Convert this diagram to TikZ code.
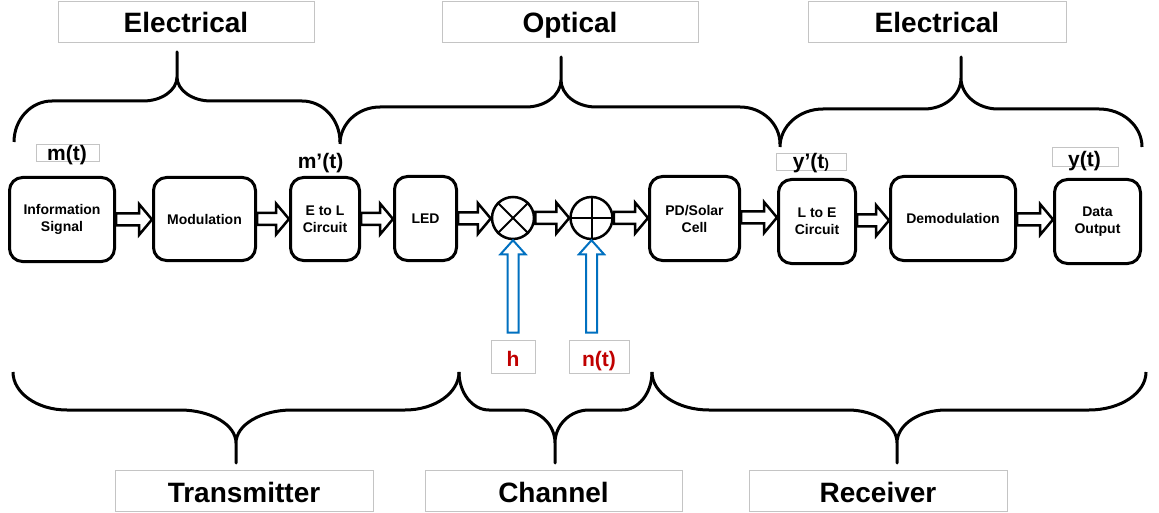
\documentclass[tikz,border=0pt]{standalone}
\usepackage{fontspec}
\setmainfont{Liberation Sans}
\usetikzlibrary{calc}

\definecolor{linkblue}{HTML}{0070C0}
\definecolor{valred}{HTML}{C00000}
\definecolor{framegray}{HTML}{C4C4C4}

% curly brace: x1, x2, x of tip, y of ends, y of bar, y of neck, y of tip,
% x-radius of end curves, x-radius of tip curves
\newcommand\curlybrace[9]{%
  \pgfmathsetmacro\cbA{#4+0.552*(#5-#4)}%
  \pgfmathsetmacro\cbB{#1+(1-0.552)*#8}%
  \pgfmathsetmacro\cbC{#1+#8}%
  \pgfmathsetmacro\cbD{#3-#9}%
  \pgfmathsetmacro\cbE{#3-#9+0.552*#9}%
  \pgfmathsetmacro\cbF{#6+0.552*(#5-#6)}%
  \pgfmathsetmacro\cbG{#3+#9-0.552*#9}%
  \pgfmathsetmacro\cbH{#3+#9}%
  \pgfmathsetmacro\cbI{#2-#8}%
  \pgfmathsetmacro\cbJ{#2-#8+0.552*#8}%
  \draw[bracket] (#1,#4) .. controls (#1,\cbA) and (\cbB,#5) .. (\cbC,#5)
    -- (\cbD,#5) .. controls (\cbE,#5) and (#3,\cbF) .. (#3,#6) -- (#3,#7)
    -- (#3,#6) .. controls (#3,\cbF) and (\cbG,#5) .. (\cbH,#5)
    -- (\cbI,#5) .. controls (\cbJ,#5) and (#2,\cbA) .. (#2,#4);
}

\tikzset{
  block/.style={draw, line width=3pt, rounded corners=13pt, align=center,
    font=\fontsize{14}{17}\selectfont\bfseries, inner sep=2pt},
  mixer/.style={draw, circle, line width=2.5pt, minimum size=42pt, inner sep=0pt},
  bracket/.style={line width=3pt, line join=round},
  tagbox/.style={draw=framegray, line width=0.8pt, inner sep=0pt},
  headtext/.style={font=\fontsize{28}{28}\selectfont\bfseries,
    text height=23pt, text depth=0pt},
  sigtext/.style={font=\fontsize{21}{21}\selectfont\bfseries, inner sep=0pt},
  valtext/.style={text=valred, text height=19pt, text depth=0pt},
  hollow/.style={draw=black, fill=white, line width=2.5pt},
  hollowblue/.style={draw=linkblue, fill=white, line width=2pt},
  fatright/.style={to path={let \p1=(\tikztostart), \p2=(\tikztotarget) in
    (\x1,\y1+6pt) -- (\x2-13pt,\y1+6pt) -- (\x2-13pt,\y1+15.5pt) -- (\x2,\y1)
    -- (\x2-13pt,\y1-15.5pt) -- (\x2-13pt,\y1-6pt) -- (\x1,\y1-6pt) -- cycle}},
  fatup/.style={to path={let \p1=(\tikztostart), \p2=(\tikztotarget) in
    (\x1-5.5pt,\y1) -- (\x1-5.5pt,\y2-14pt) -- (\x1-12.5pt,\y2-14pt) -- (\x1,\y2)
    -- (\x1+12.5pt,\y2-14pt) -- (\x1+5.5pt,\y2-14pt) -- (\x1+5.5pt,\y1) -- cycle}},
}

\begin{document}
\begin{tikzpicture}[x=1pt, y=-1pt]
\useasboundingbox (0,0) rectangle (1159,513);

% domain headings
\node[tagbox, headtext, minimum width=256pt, minimum height=41pt] (elecA) at (186,21.5) {Electrical};
\node[tagbox, headtext, minimum width=256pt, minimum height=41pt] (optic) at (570,21.5) {Optical};
\node[tagbox, headtext, minimum width=258pt, minimum height=41pt] (elecB) at (937,21.5) {Electrical};

% braces over the chain
\curlybrace{14}{340}{177}{142}{101}{77}{52}{38}{34}
\curlybrace{340}{780}{561}{144}{107}{80}{57}{40}{35}
\curlybrace{780}{1142}{961}{147}{109}{78}{57}{43}{37}

% braces under the chain
\curlybrace{13}{459}{236}{372}{410}{443}{463}{54}{56}
\curlybrace{459}{652}{555}{372}{410}{443}{463}{30}{34}
\curlybrace{652}{1146}{897}{372}{410}{443}{463}{57}{49}

% section names
\node[tagbox, headtext, minimum width=258pt, minimum height=41pt] (tx) at (244,490.5) {Transmitter};
\node[tagbox, headtext, minimum width=257pt, minimum height=41pt] (ch) at (553.5,490.5) {Channel};
\node[tagbox, headtext, minimum width=258pt, minimum height=41pt] (rx) at (878,490.5) {Receiver};

% processing blocks
\node[block, minimum width=105pt, minimum height=84pt] (info) at (62,219.5) {Information\\Signal};
\node[block, minimum width=102pt, minimum height=83pt] (mod) at (204.5,219) {Modulation};
\node[block, minimum width=69pt, minimum height=83pt] (etol) at (325,219) {E to L\\Circuit};
\node[block, minimum width=62pt, minimum height=84pt] (led) at (425.5,218.5) {LED};
\node[mixer] (mul) at (513,218) {};
\node[mixer] (add) at (591.5,218) {};
\node[block, minimum width=90pt, minimum height=84pt] (pd) at (694.5,218.5) {PD/Solar\\Cell};
\node[block, minimum width=77pt, minimum height=84pt] (ltoe) at (817,221.5) {L to E\\Circuit};
\node[block, minimum width=125pt, minimum height=84pt] (demod) at (953,218.5) {Demodulation};
\node[block, minimum width=86pt, minimum height=84pt] (out) at (1097.5,221.5) {Data\\Output};

% multiplier and adder marks
\draw[line width=2pt] (mul.north west) -- (mul.south east);
\draw[line width=2pt] (mul.north east) -- (mul.south west);
\draw[line width=2pt] (add.north) -- (add.south);
\draw[line width=2pt] (add.west) -- (add.east);

% signal labels
\node[tagbox, minimum width=63pt, minimum height=17pt] (mtbox) at (67.5,152.5) {};
\node[sigtext] (mt) at (67,155.5) {m(t)};
\node[sigtext] (mpt) at (320.5,163.5) {m’(t)};
\node[tagbox, minimum width=70pt, minimum height=17pt] (ypbox) at (811,161.5) {};
\node[sigtext] (ypt) at (811,163) {y’(t{\fontsize{14}{14}\selectfont)}};
\node[tagbox, minimum width=66pt, minimum height=19pt] (ybox) at (1085,156.5) {};
\node[sigtext] (yt) at (1084.5,161) {y(t)};

% channel gain and noise
\node[tagbox, sigtext, valtext, minimum width=44pt, minimum height=33pt] (h) at (513,356.5) {h};
\node[tagbox, sigtext, valtext, minimum width=60pt, minimum height=33pt] (nt) at (599,356.5) {n(t)};

% block arrows along the chain
\draw[hollow, fatright] (info.east) to (mod.west);
\draw[hollow, fatright] (mod.east) to (etol.west);
\draw[hollow, fatright] (etol.east) to (led.west);
\draw[hollow, fatright] (led.east) to (mul.west);
\draw[hollow, fatright] (mul.east) to (add.west);
\draw[hollow, fatright] (add.east) to (pd.west);
\draw[hollow, fatright] ([yshift=1pt]pd.east) to (ltoe.west);
\draw[hollow, fatright] ([yshift=1pt]ltoe.east) to (demod.west);
\draw[hollow, fatright] ([yshift=-1pt]demod.east) to (out.west);

% gain and noise inputs
\draw[hollowblue, fatup] ([yshift=7pt]h.north) to (mul.south);
\draw[hollowblue, fatup] ([xshift=-7.5pt,yshift=7pt]nt.north) to (add.south);
\end{tikzpicture}
\end{document}
